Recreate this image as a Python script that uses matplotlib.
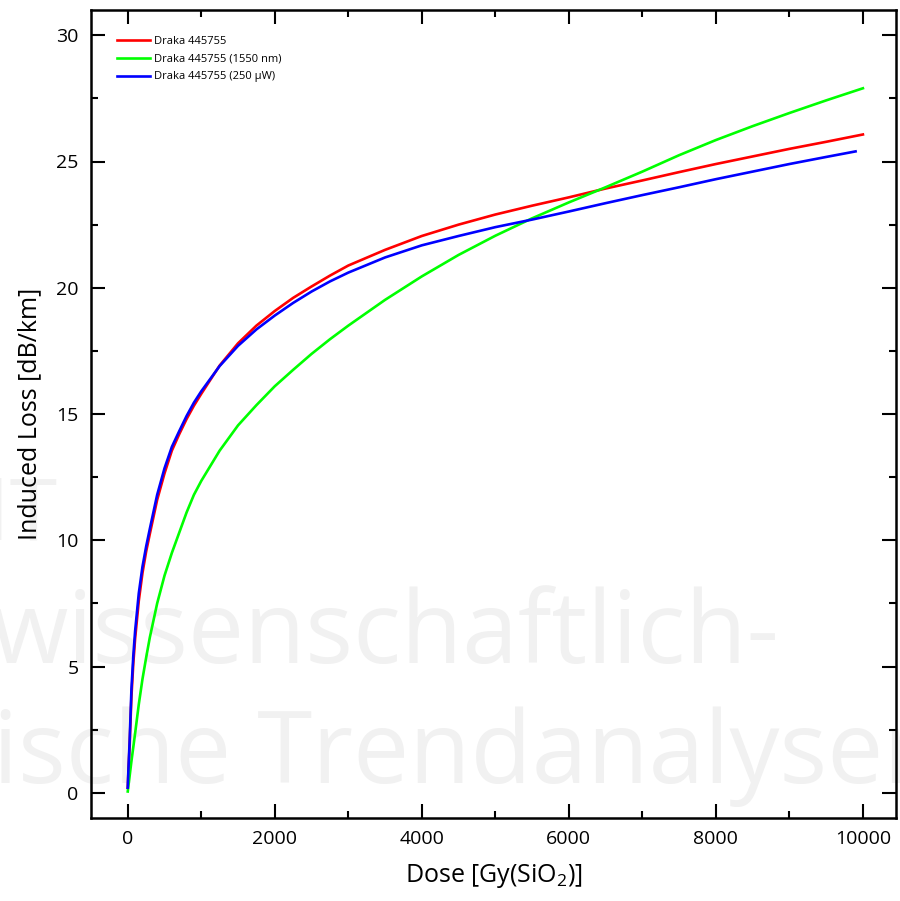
import matplotlib
matplotlib.use("Agg")
import matplotlib.pyplot as plt
from matplotlib.ticker import MultipleLocator

plt.rcParams['font.family'] = ['Open Sans', 'DejaVu Sans']
plt.rcParams['mathtext.fontset'] = 'custom'
plt.rcParams['mathtext.rm'] = 'Open Sans'
plt.rcParams['mathtext.it'] = 'Open Sans'

# Werte
dose = [0, 10, 25, 50, 75, 100, 150, 200, 250, 300, 400, 500, 600, 700, 800,
        900, 1000, 1250, 1500, 1750, 2000, 2250, 2500, 2750, 3000, 3500, 4000,
        4500, 5000, 5500, 6000, 6500, 7000, 7500, 8000, 8500, 9000, 9500, 10000]
loss_red = [0.2, 0.9, 1.85, 3.8, 5.1, 6.1, 7.6, 8.7, 9.55, 10.25, 11.6, 12.65,
            13.55, 14.2, 14.8, 15.33, 15.8, 16.92, 17.8, 18.5, 19.08, 19.6,
            20.05, 20.48, 20.88, 21.5, 22.05, 22.5, 22.9, 23.25, 23.58, 23.93,
            24.25, 24.58, 24.9, 25.2, 25.5, 25.78, 26.07]
loss_green = [0.05, 0.3, 0.65, 1.25, 1.8, 2.35, 3.5, 4.5, 5.35, 6.15, 7.5,
              8.6, 9.5, 10.3, 11.1, 11.8, 12.35, 13.55, 14.55, 15.35, 16.1,
              16.75, 17.38, 17.96, 18.5, 19.52, 20.45, 21.3, 22.06, 22.75,
              23.38, 23.98, 24.6, 25.25, 25.85, 26.4, 26.92, 27.42, 27.9]
dose_blue = [0, 10, 25, 50, 75, 100, 150, 200, 250, 300, 400, 500, 600, 700,
             800, 900, 1000, 1250, 1500, 1750, 2000, 2250, 2500, 2750, 3000,
             3500, 4000, 4500, 5000, 5500, 6000, 6500, 7000, 7500, 8000, 8500,
             9000, 9500, 9900]
loss_blue = [0.2, 1.0, 2.0, 4.1, 5.4, 6.4, 7.9, 8.95, 9.75, 10.45, 11.8,
             12.85, 13.7, 14.32, 14.92, 15.45, 15.9, 16.9, 17.7, 18.35, 18.9,
             19.4, 19.85, 20.25, 20.6, 21.2, 21.68, 22.05, 22.4, 22.7, 23.02,
             23.35, 23.67, 23.98, 24.3, 24.6, 24.9, 25.18, 25.4]

labels = ["Draka 445755", "Draka 445755 (1550 nm)", "Draka 445755 (250 µW)"]

fig = plt.figure(figsize=(9, 9.01), dpi=100)
ax = fig.add_axes([91 / 900, 83 / 901, 805 / 900, 808 / 901])
ax.patch.set_alpha(0)

# Wasserzeichen im Hintergrund
wm = dict(color='#f1f1f1', fontsize=72, zorder=-1, ha='left', va='baseline')
fig.text(58 / 900, 1 - 540 / 901, "INT", color='#f1f1f1', fontsize=62,
         zorder=-1, ha='right', va='baseline')
fig.text(-9 / 900, 1 - 663 / 901, "wissenschaftlich-", **wm)
fig.text(-7 / 900, 1 - 783 / 901, "ische Trendanalysen", **wm)

ax.plot(dose, loss_red, color='#ff0000', lw=1.9, label=labels[0])
ax.plot(dose, loss_green, color='#00ff00', lw=1.9, label=labels[1])
ax.plot(dose_blue, loss_blue, color='#0000ff', lw=1.9, label=labels[2])

ax.set_xlim(-500, 10450)
ax.set_ylim(-1, 31)
ax.xaxis.set_major_locator(MultipleLocator(2000))
ax.xaxis.set_minor_locator(MultipleLocator(1000))
ax.yaxis.set_major_locator(MultipleLocator(5))
ax.yaxis.set_minor_locator(MultipleLocator(2.5))

for s in ax.spines.values():
    s.set_linewidth(1.8)
ax.tick_params(which='both', direction='in', top=True, right=True, width=1.5)
ax.tick_params(which='major', length=10, labelsize=14, pad=9)
ax.tick_params(which='minor', length=5)

ax.set_xlabel(r"Dose [Gy(SiO$_2$)]", fontsize=18, labelpad=10)
ax.set_ylabel("Induced Loss [dB/km]", fontsize=18, labelpad=10)

ax.legend(loc='upper left', bbox_to_anchor=(0.02, 0.98), frameon=False,
          fontsize=8, handlelength=3.0, handletextpad=0.3, labelspacing=0.6)

fig.savefig("out.png", dpi=100)
